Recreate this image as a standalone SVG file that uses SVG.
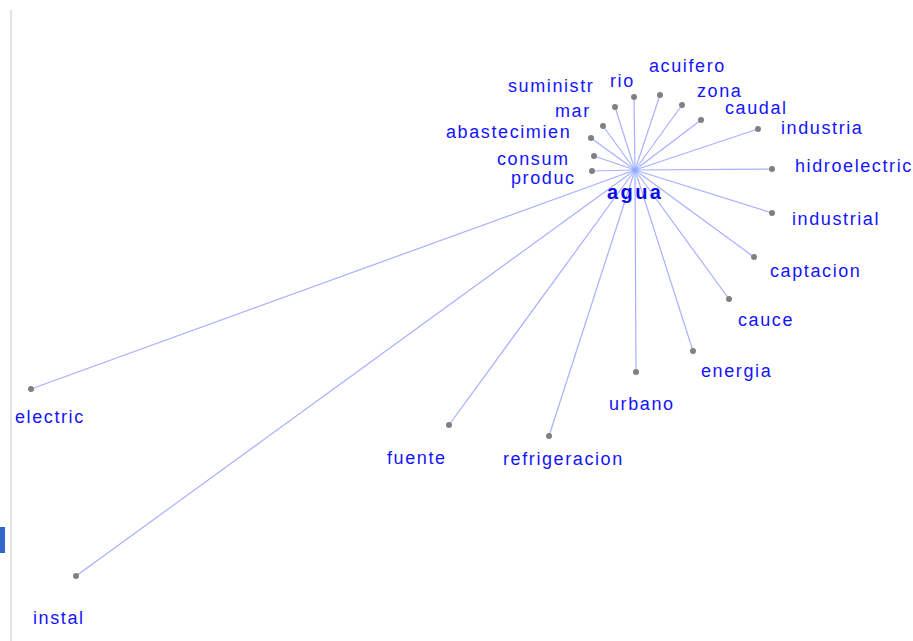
<svg xmlns="http://www.w3.org/2000/svg" width="913" height="641" viewBox="0 0 913 641">
<defs>
<radialGradient id="glow" cx="0.5" cy="0.5" r="0.5">
<stop offset="0" stop-color="#7f9fff"/>
<stop offset="0.6" stop-color="#a9bfff"/>
<stop offset="1" stop-color="#d8e2ff" stop-opacity="0.3"/>
</radialGradient>
</defs>
<style>
.e{stroke:#a8b0ff;stroke-width:1.2;fill:none}
.d{fill:#808080}
.t{font-family:"Liberation Sans",Arial,sans-serif;font-size:18px;letter-spacing:1.6px;fill:#1414ff}
.c{font-family:"Liberation Sans",Arial,sans-serif;font-size:20px;font-weight:bold;letter-spacing:2.4px;fill:#0a0ae6}
</style>
<rect x="0" y="0" width="913" height="641" fill="#ffffff"/>
<rect x="10" y="10" width="2" height="631" fill="#e2e2e2"/>
<rect x="0" y="527" width="5" height="26" fill="#3366cc"/>
<g id="connectors">
<line class="e" x1="635" y1="170" x2="634" y2="97"/>
<line class="e" x1="635" y1="170" x2="660" y2="95"/>
<line class="e" x1="635" y1="170" x2="682" y2="105"/>
<line class="e" x1="635" y1="170" x2="701" y2="120"/>
<line class="e" x1="635" y1="170" x2="758" y2="129"/>
<line class="e" x1="635" y1="170" x2="772" y2="169"/>
<line class="e" x1="635" y1="170" x2="615" y2="107"/>
<line class="e" x1="635" y1="170" x2="603" y2="126"/>
<line class="e" x1="635" y1="170" x2="591" y2="138"/>
<line class="e" x1="635" y1="170" x2="594" y2="156"/>
<line class="e" x1="635" y1="170" x2="592" y2="171"/>
<line class="e" x1="635" y1="170" x2="772" y2="213"/>
<line class="e" x1="635" y1="170" x2="754" y2="257"/>
<line class="e" x1="635" y1="170" x2="729" y2="299"/>
<line class="e" x1="635" y1="170" x2="693" y2="351"/>
<line class="e" x1="635" y1="170" x2="636" y2="372"/>
<line class="e" x1="635" y1="170" x2="449" y2="425"/>
<line class="e" x1="635" y1="170" x2="549" y2="436"/>
<line class="e" x1="635" y1="170" x2="31" y2="389"/>
<line class="e" x1="635" y1="170" x2="76" y2="576"/>
</g>
<g id="rio"><circle class="d" cx="634" cy="97" r="3"/><text class="t" x="610" y="87">rio</text></g>
<g id="acuifero"><circle class="d" cx="660" cy="95" r="3"/><text class="t" x="649" y="72">acuifero</text></g>
<g id="zona"><circle class="d" cx="682" cy="105" r="3"/><text class="t" x="697" y="97">zona</text></g>
<g id="caudal"><circle class="d" cx="701" cy="120" r="3"/><text class="t" x="725" y="114">caudal</text></g>
<g id="industria"><circle class="d" cx="758" cy="129" r="3"/><text class="t" x="781" y="134">industria</text></g>
<g id="hidroelectric"><circle class="d" cx="772" cy="169" r="3"/><text class="t" x="795" y="172">hidroelectric</text></g>
<g id="suministr"><circle class="d" cx="615" cy="107" r="3"/><text class="t" x="508" y="92">suministr</text></g>
<g id="mar"><circle class="d" cx="603" cy="126" r="3"/><text class="t" x="555" y="117">mar</text></g>
<g id="abastecimien"><circle class="d" cx="591" cy="138" r="3"/><text class="t" x="446" y="138">abastecimien</text></g>
<g id="consum"><circle class="d" cx="594" cy="156" r="3"/><text class="t" x="497" y="165">consum</text></g>
<g id="produc"><circle class="d" cx="592" cy="171" r="3"/><text class="t" x="511" y="184">produc</text></g>
<g id="industrial"><circle class="d" cx="772" cy="213" r="3"/><text class="t" x="792" y="225">industrial</text></g>
<g id="captacion"><circle class="d" cx="754" cy="257" r="3"/><text class="t" x="770" y="277">captacion</text></g>
<g id="cauce"><circle class="d" cx="729" cy="299" r="3"/><text class="t" x="738" y="326">cauce</text></g>
<g id="energia"><circle class="d" cx="693" cy="351" r="3"/><text class="t" x="701" y="377">energia</text></g>
<g id="urbano"><circle class="d" cx="636" cy="372" r="3"/><text class="t" x="609" y="410">urbano</text></g>
<g id="fuente"><circle class="d" cx="449" cy="425" r="3"/><text class="t" x="387" y="464">fuente</text></g>
<g id="refrigeracion"><circle class="d" cx="549" cy="436" r="3"/><text class="t" x="503" y="465">refrigeracion</text></g>
<g id="electric"><circle class="d" cx="31" cy="389" r="3"/><text class="t" x="15" y="423">electric</text></g>
<g id="instal"><circle class="d" cx="76" cy="576" r="3"/><text class="t" x="33" y="624">instal</text></g>
<g id="agua"><circle cx="635" cy="170" r="6" fill="url(#glow)"/><text class="c" x="607" y="199">agua</text></g>
</svg>
